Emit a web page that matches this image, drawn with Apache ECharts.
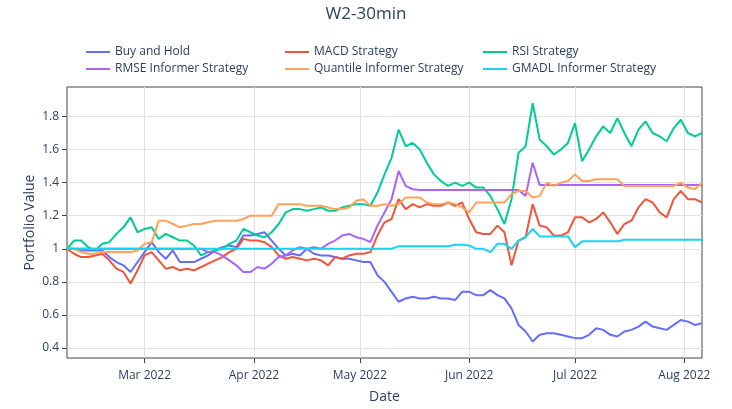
<!DOCTYPE html>
<html>
<head>
<meta charset="utf-8">
<script src="https://cdn.jsdelivr.net/npm/echarts@6/dist/echarts.min.js"></script>
<style>
  html, body { margin: 0; padding: 0; background: #fff; }
  #chart { width: 732px; height: 409px; }
</style>
</head>
<body>
<div id="chart"></div>
<script>
var dates = [
  "2022-02-07","2022-02-09","2022-02-11","2022-02-13","2022-02-15","2022-02-17","2022-02-19","2022-02-21","2022-02-23","2022-02-25","2022-02-27",
  "2022-03-01","2022-03-03","2022-03-05","2022-03-07","2022-03-09","2022-03-11","2022-03-13","2022-03-15","2022-03-17","2022-03-19","2022-03-21","2022-03-23","2022-03-25","2022-03-27","2022-03-29","2022-03-31",
  "2022-04-02","2022-04-04","2022-04-06","2022-04-08","2022-04-10","2022-04-12","2022-04-14","2022-04-16","2022-04-18","2022-04-20","2022-04-22","2022-04-24","2022-04-26","2022-04-28","2022-04-30",
  "2022-05-02","2022-05-04","2022-05-06","2022-05-08","2022-05-10","2022-05-12","2022-05-14","2022-05-16","2022-05-18","2022-05-20","2022-05-22","2022-05-24","2022-05-26","2022-05-28","2022-05-30",
  "2022-06-01","2022-06-03","2022-06-05","2022-06-07","2022-06-09","2022-06-11","2022-06-13","2022-06-15","2022-06-17","2022-06-19","2022-06-21","2022-06-23","2022-06-25","2022-06-27","2022-06-29",
  "2022-07-01","2022-07-03","2022-07-05","2022-07-07","2022-07-09","2022-07-11","2022-07-13","2022-07-15","2022-07-17","2022-07-19","2022-07-21","2022-07-23","2022-07-25","2022-07-27","2022-07-29","2022-07-31",
  "2022-08-02","2022-08-04","2022-08-06"
];

var buyHold = [
  1.00,1.00,0.99,0.99,0.99,0.99,0.95,0.92,0.90,0.86,
  0.92,0.98,1.04,0.98,0.94,0.99,0.92,0.92,0.92,0.94,
  0.96,0.99,1.01,1.02,1.01,1.08,1.08,1.09,1.10,1.05,
  1.00,0.96,0.97,0.96,1.00,0.97,0.96,0.96,0.95,0.94,
  0.94,0.93,0.92,0.92,0.84,0.80,0.74,0.68,0.70,0.71,
  0.70,0.70,0.71,0.70,0.70,0.69,0.74,0.74,0.72,0.72,
  0.75,0.72,0.70,0.64,0.54,0.50,0.44,0.48,0.49,0.49,
  0.48,0.47,0.46,0.46,0.48,0.52,0.51,0.48,0.47,0.50,
  0.51,0.53,0.56,0.53,0.52,0.51,0.54,0.57,0.56,0.54,0.55
];
var macd = [
  1.00,0.97,0.95,0.95,0.96,0.97,0.93,0.88,0.86,0.79,
  0.87,0.96,0.98,0.93,0.88,0.89,0.87,0.88,0.87,0.89,
  0.91,0.93,0.95,0.98,1.00,1.06,1.05,1.05,1.04,1.01,
  0.96,0.94,0.95,0.94,0.93,0.94,0.93,0.90,0.95,0.94,
  0.96,0.97,0.97,0.98,1.08,1.16,1.18,1.30,1.24,1.27,
  1.25,1.27,1.26,1.26,1.28,1.26,1.28,1.18,1.10,1.09,
  1.09,1.14,1.10,0.90,1.05,1.07,1.27,1.14,1.13,1.08,
  1.08,1.10,1.19,1.19,1.16,1.18,1.22,1.16,1.09,1.15,
  1.17,1.25,1.30,1.28,1.22,1.19,1.30,1.35,1.30,1.30,1.28
];
var rsi = [
  1.00,1.05,1.05,1.01,0.99,1.03,1.04,1.09,1.13,1.19,
  1.10,1.12,1.13,1.06,1.09,1.07,1.05,1.05,1.02,0.96,
  0.98,0.99,1.00,1.03,1.05,1.12,1.10,1.08,1.07,1.10,
  1.15,1.22,1.24,1.24,1.23,1.24,1.25,1.23,1.23,1.25,
  1.26,1.27,1.27,1.26,1.34,1.45,1.55,1.72,1.62,1.64,
  1.60,1.52,1.45,1.41,1.38,1.40,1.38,1.40,1.37,1.37,
  1.32,1.24,1.15,1.30,1.58,1.62,1.88,1.66,1.62,1.57,
  1.60,1.64,1.76,1.53,1.60,1.68,1.74,1.70,1.79,1.70,
  1.62,1.72,1.77,1.70,1.68,1.65,1.73,1.78,1.70,1.68,1.70
];
var rmse = [
  1.00,1.00,1.00,1.00,1.00,1.00,1.00,1.00,1.00,1.00,
  1.00,1.00,1.00,1.00,1.00,1.00,1.00,1.00,1.00,1.00,
  0.98,0.98,0.96,0.93,0.90,0.86,0.86,0.89,0.88,0.91,
  0.95,0.96,0.99,1.01,1.00,1.01,1.00,1.03,1.05,1.08,
  1.09,1.07,1.06,1.04,1.14,1.22,1.30,1.47,1.38,1.36,
  1.355,1.355,1.355,1.355,1.355,1.355,1.355,1.355,1.355,1.355,
  1.355,1.355,1.355,1.355,1.355,1.32,1.52,1.385,1.385,1.385,
  1.385,1.385,1.385,1.385,1.385,1.385,1.385,1.385,1.385,1.385,
  1.385,1.385,1.385,1.385,1.385,1.385,1.385,1.385,1.385,1.385,1.385
];
var quantile = [
  1.00,1.00,0.98,0.97,0.97,0.98,0.98,0.98,0.98,0.98,
  0.99,1.03,1.04,1.17,1.17,1.15,1.13,1.14,1.15,1.15,
  1.16,1.17,1.17,1.17,1.17,1.18,1.20,1.20,1.20,1.20,
  1.27,1.27,1.27,1.27,1.26,1.26,1.26,1.25,1.24,1.24,
  1.25,1.29,1.30,1.26,1.26,1.27,1.26,1.27,1.31,1.31,
  1.31,1.28,1.27,1.27,1.28,1.27,1.25,1.22,1.28,1.28,
  1.28,1.28,1.28,1.33,1.35,1.35,1.31,1.32,1.40,1.38,
  1.40,1.41,1.45,1.41,1.41,1.42,1.42,1.42,1.42,1.38,
  1.38,1.38,1.38,1.38,1.38,1.38,1.38,1.40,1.37,1.36,1.40
];
var gmadl = [
  1.00,1.00,1.00,1.00,1.00,1.00,1.00,1.00,1.00,1.00,
  1.00,1.00,1.00,1.00,1.00,1.00,1.00,1.00,1.00,1.00,
  1.00,1.00,1.00,1.00,1.00,1.00,1.00,1.00,1.00,1.00,
  1.00,1.00,1.00,1.00,1.00,1.00,1.00,1.00,1.00,1.00,
  1.00,1.00,1.00,1.00,1.00,1.00,1.00,1.015,1.015,1.015,
  1.015,1.015,1.015,1.015,1.015,1.025,1.025,1.02,1.00,1.00,
  0.98,1.03,1.03,1.00,1.05,1.07,1.12,1.075,1.075,1.075,
  1.075,1.075,1.01,1.045,1.045,1.045,1.045,1.045,1.045,1.055,
  1.055,1.055,1.055,1.055,1.055,1.055,1.055,1.055,1.055,1.055,1.055
];

var seriesNames = ["Buy and Hold", "MACD Strategy", "RSI Strategy",
  "RMSE Informer Strategy", "Quantile Informer Strategy", "GMADL Informer Strategy"];
var seriesValues = [buyHold, macd, rsi, rmse, quantile, gmadl];
var colors = ["#636EFA", "#EF553B", "#00CC96", "#AB63FA", "#FFA15A", "#19D3F3"];

var yTicks = [0.4, 0.6, 0.8, 1.0, 1.2, 1.4, 1.6, 1.8];
var monthTicks = ["2022-03-01", "2022-04-01", "2022-05-01", "2022-06-01", "2022-07-01", "2022-08-01"];
var monthNames = ["Jan","Feb","Mar","Apr","May","Jun","Jul","Aug","Sep","Oct","Nov","Dec"];

function toTime(s) {
  var p = s.split("-");
  return new Date(+p[0], +p[1] - 1, +p[2]).getTime();
}

var font = '"Open Sans", verdana, arial, sans-serif';
var textColor = "#2a3f5f";

var chart = echarts.init(document.getElementById("chart"));

var series = seriesNames.map(function (name, k) {
  return {
    name: name,
    type: "line",
    symbol: "none",
    color: colors[k],
    lineStyle: { width: 2, color: colors[k] },
    data: dates.map(function (d, i) { return [toTime(d), seriesValues[k][i]]; })
  };
});

// plotly style legend: 3 columns x 2 rows
var legendCols = [86, 285, 483];
var legendRows = [46, 63];
var legends = seriesNames.map(function (name, k) {
  return {
    data: [name],
    left: legendCols[k % 3],
    top: legendRows[Math.floor(k / 3)],
    icon: "rect",
    itemWidth: 24,
    itemHeight: 2,
    padding: 0,
    textStyle: { fontFamily: font, fontSize: 12, color: textColor }
  };
});

chart.setOption({
  animation: false,
  backgroundColor: "#fff",
  textStyle: { fontFamily: font },
  title: {
    text: "W2-30min",
    left: "center",
    top: 1,
    textStyle: { fontFamily: font, fontSize: 17, fontWeight: "normal", color: textColor }
  },
  legend: legends,
  grid: {
    left: 67, right: 30, top: 87, bottom: 49,
    show: true, borderColor: "#444", borderWidth: 1, backgroundColor: "#fff"
  },
  xAxis: {
    // timestamps on a value axis so the month ticks can be placed exactly
    type: "value",
    min: toTime("2022-02-07"),
    max: toTime("2022-08-06"),
    name: "Date",
    nameLocation: "middle",
    nameGap: 32,
    nameMoveOverlap: false,
    nameTextStyle: { fontFamily: font, fontSize: 14, color: textColor },
    axisLine: { show: false },
    axisTick: { show: true, length: 5, lineStyle: { color: "#444" }, customValues: monthTicks.map(toTime) },
    axisLabel: {
      fontFamily: font, fontSize: 12, color: textColor, margin: 12,
      customValues: monthTicks.map(toTime),
      formatter: function (v) {
        var d = new Date(v);
        return monthNames[d.getMonth()] + " " + d.getFullYear();
      }
    },
    splitLine: { show: true, lineStyle: { color: "#E2E2E2", width: 1 } }
  },
  yAxis: {
    type: "value",
    min: 0.34,
    max: 1.978,
    name: "Portfolio Value",
    nameLocation: "middle",
    nameGap: 30,
    nameMoveOverlap: false,
    nameTextStyle: { fontFamily: font, fontSize: 14, color: textColor },
    axisLine: { show: false },
    axisTick: { show: true, length: 5, lineStyle: { color: "#444" }, customValues: yTicks },
    axisLabel: {
      fontFamily: font, fontSize: 12, color: textColor, margin: 8,
      customValues: yTicks,
      formatter: function (v) { return String(Number(v.toFixed(1))); }
    },
    splitLine: { show: true, lineStyle: { color: "#E2E2E2", width: 1 } }
  },
  series: series
});
</script>
</body>
</html>
